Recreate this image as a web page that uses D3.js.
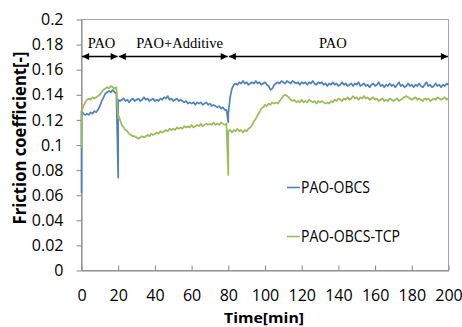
<!DOCTYPE html>
<html>
<head>
<meta charset="utf-8">
<script src="https://cdn.jsdelivr.net/npm/d3@7"></script>
<style>
  html, body { margin: 0; padding: 0; background: #fff; }
  svg { display: block; }
</style>
</head>
<body>
<svg id="chart" width="462" height="327"></svg>
<script>
// Sampling grid: one reading per minute
const minutes = d3.range(0, 201);

// Friction coefficient, PAO-OBCS
const obcs = [
  0.127,0.125,0.124,0.125,0.124,0.126,0.125,0.127,0.126,0.128,
  0.131,0.135,0.138,0.141,0.142,0.143,0.142,0.144,0.142,0.141,
  0.136,0.135,0.136,0.137,0.135,0.136,0.134,0.136,0.137,0.135,
  0.136,0.137,0.135,0.136,0.138,0.136,0.137,0.135,0.136,0.137,
  0.135,0.136,0.135,0.137,0.136,0.138,0.137,0.139,0.136,0.137,
  0.135,0.136,0.137,0.135,0.136,0.135,0.134,0.135,0.133,0.134,
  0.133,0.134,0.132,0.134,0.133,0.134,0.132,0.133,0.134,0.132,
  0.133,0.131,0.132,0.131,0.130,0.131,0.129,0.130,0.128,0.128,
  0.125,0.138,0.145,0.148,0.149,0.148,0.150,0.149,0.151,0.149,
  0.150,0.148,0.149,0.150,0.149,0.151,0.149,0.150,0.148,0.149,
  0.150,0.148,0.147,0.144,0.145,0.148,0.149,0.150,0.149,0.151,
  0.150,0.149,0.151,0.150,0.149,0.151,0.150,0.149,0.150,0.148,
  0.150,0.149,0.150,0.148,0.150,0.149,0.151,0.149,0.148,0.150,
  0.149,0.150,0.148,0.149,0.147,0.149,0.148,0.150,0.148,0.149,
  0.147,0.148,0.150,0.148,0.149,0.147,0.148,0.149,0.147,0.149,
  0.148,0.150,0.147,0.148,0.149,0.147,0.148,0.146,0.148,0.149,
  0.147,0.148,0.150,0.147,0.148,0.146,0.148,0.147,0.149,0.147,
  0.148,0.146,0.148,0.150,0.147,0.148,0.146,0.147,0.149,0.147,
  0.148,0.146,0.148,0.147,0.149,0.147,0.146,0.148,0.150,0.147,
  0.148,0.146,0.147,0.149,0.147,0.148,0.146,0.148,0.147,0.149,
  0.148
];

// Friction coefficient, PAO-OBCS-TCP
const obcsTcp = [
  0.126,0.131,0.134,0.136,0.137,0.136,0.138,0.137,0.138,0.139,
  0.140,0.142,0.144,0.145,0.146,0.145,0.147,0.146,0.145,0.146,
  0.124,0.120,0.116,0.114,0.112,0.111,0.109,0.108,0.107,0.107,
  0.106,0.105,0.106,0.107,0.106,0.107,0.108,0.107,0.109,0.108,
  0.109,0.110,0.109,0.111,0.110,0.111,0.112,0.111,0.113,0.112,
  0.113,0.112,0.114,0.113,0.114,0.113,0.115,0.114,0.115,0.114,
  0.116,0.114,0.115,0.116,0.115,0.117,0.115,0.116,0.117,0.116,
  0.117,0.116,0.118,0.116,0.117,0.116,0.118,0.117,0.116,0.117,
  0.111,0.112,0.110,0.112,0.111,0.113,0.111,0.112,0.110,0.112,
  0.111,0.113,0.114,0.116,0.119,0.121,0.124,0.126,0.129,0.130,
  0.132,0.131,0.133,0.132,0.134,0.133,0.134,0.133,0.135,0.137,
  0.139,0.140,0.139,0.138,0.136,0.135,0.136,0.134,0.135,0.134,
  0.136,0.134,0.135,0.134,0.136,0.135,0.134,0.135,0.133,0.135,
  0.134,0.135,0.134,0.133,0.134,0.133,0.135,0.134,0.136,0.135,
  0.137,0.136,0.135,0.137,0.136,0.138,0.136,0.137,0.139,0.137,
  0.138,0.136,0.138,0.137,0.139,0.137,0.138,0.136,0.137,0.138,
  0.136,0.137,0.135,0.136,0.137,0.135,0.136,0.135,0.137,0.136,
  0.135,0.136,0.137,0.135,0.136,0.137,0.138,0.139,0.138,0.137,
  0.136,0.137,0.138,0.136,0.137,0.136,0.135,0.137,0.136,0.137,
  0.135,0.136,0.137,0.136,0.138,0.137,0.136,0.137,0.138,0.136,
  0.137
];

// Momentary minima when the oil is changed (minute, value)
const obcsDips = [[0, 0.062], [20, 0.074], [80, 0.118]];
const obcsTcpDips = [[0, 0.098], [20, 0.121], [80, 0.076]];

const seriesNames = ["PAO-OBCS", "PAO-OBCS-TCP"];
const seriesColors = ["#4F81BD", "#9BBB59"];

const yTicks = [0, 0.02, 0.04, 0.06, 0.08, 0.1, 0.12, 0.14, 0.16, 0.18, 0.2];
const yTickLabels = ["0", "0.02", "0.04", "0.06", "0.08", "0.1", "0.12", "0.14", "0.16", "0.18", "0.2"];
const xTicks = [0, 20, 40, 60, 80, 100, 120, 140, 160, 180, 200];

// Test phases: lubricant used in each interval
const phaseLabels = ["PAO", "PAO+Additive", "PAO"];
const phaseStart = [0, 20, 80];
const phaseEnd = [20, 80, 200];
const phaseLabelAt = [10.9, 53.5, 137];

// ---- layout ----
const plotLeft = 81.5, plotRight = 448.5, plotTop = 19.5, plotBottom = 270.5;

const svg = d3.select("#chart");

const x = d3.scaleLinear().domain([0, 200]).range([plotLeft, plotRight]);
const y = d3.scaleLinear().domain([0, 0.2]).range([plotBottom, plotTop]);

const axisColor = "#868686";
const tickFont = "'Open Sans', 'Noto Sans', sans-serif";

// plot frame
svg.append("rect")
  .attr("x", plotLeft).attr("y", plotTop)
  .attr("width", plotRight - plotLeft).attr("height", plotBottom - plotTop)
  .attr("fill", "none").attr("stroke", "#a6a6a6").attr("stroke-width", 1);

// y axis
const gy = svg.append("g")
  .attr("transform", `translate(${plotLeft},0)`)
  .call(d3.axisLeft(y).tickValues(yTicks)
    .tickFormat((d, i) => yTickLabels[i])
    .tickSizeInner(5).tickSizeOuter(0).tickPadding(13));
gy.select(".domain").attr("stroke", axisColor);
gy.selectAll(".tick line").attr("stroke", axisColor);
gy.selectAll(".tick text")
  .attr("fill", "#000").attr("font-family", tickFont).attr("font-size", 16);

// x axis (ticks point into the plot)
const gx = svg.append("g")
  .attr("transform", `translate(0,${plotBottom})`)
  .call(d3.axisBottom(x).tickValues(xTicks)
    .tickSizeInner(-5).tickSizeOuter(0));
gx.select(".domain").attr("stroke", axisColor);
gx.selectAll(".tick line").attr("stroke", axisColor);
gx.selectAll(".tick text")
  .attr("y", 30.5).attr("dy", 0)
  .attr("fill", "#000").attr("font-family", tickFont).attr("font-size", 16);

// axis titles
svg.append("text")
  .attr("x", (plotLeft + plotRight) / 2 - 1).attr("y", 322.5)
  .attr("text-anchor", "middle")
  .attr("font-family", tickFont).attr("font-weight", "bold").attr("font-size", 15)
  .attr("textLength", 80).attr("lengthAdjust", "spacingAndGlyphs")
  .text("Time[min]");

svg.append("text")
  .attr("transform", "translate(26,138) rotate(-90)")
  .attr("text-anchor", "middle")
  .attr("font-family", tickFont).attr("font-weight", "bold").attr("font-size", 17)
  .attr("textLength", 173).attr("lengthAdjust", "spacingAndGlyphs")
  .text("Friction coefficient[-]");

// series lines
function buildPoints(values, dips) {
  const dipAt = new Map(dips);
  const pts = [];
  minutes.forEach((t, i) => {
    if (dipAt.has(t)) pts.push([t, dipAt.get(t)]);
    pts.push([t, values[i]]);
  });
  return pts;
}

const line = d3.line().x(d => x(d[0])).y(d => y(d[1]));
const series = [buildPoints(obcs, obcsDips), buildPoints(obcsTcp, obcsTcpDips)];

svg.append("g").selectAll("path")
  .data(series)
  .join("path")
  .attr("d", line)
  .attr("fill", "none")
  .attr("stroke", (d, i) => seriesColors[i])
  .attr("stroke-width", 1.7)
  .attr("stroke-linejoin", "round");

// phase arrows
const defs = svg.append("defs");
defs.append("marker")
  .attr("id", "arrowHead")
  .attr("viewBox", "0 0 10 10")
  .attr("refX", 10).attr("refY", 5)
  .attr("markerUnits", "userSpaceOnUse")
  .attr("markerWidth", 8).attr("markerHeight", 7)
  .attr("orient", "auto-start-reverse")
  .append("path").attr("d", "M0,0L10,5L0,10Z").attr("fill", "#000");

const arrowY = 56.5;
const ann = svg.append("g");
phaseLabels.forEach((label, i) => {
  ann.append("line")
    .attr("x1", x(phaseStart[i]) + 0.6).attr("x2", x(phaseEnd[i]) - 0.6)
    .attr("y1", arrowY).attr("y2", arrowY)
    .attr("stroke", "#000").attr("stroke-width", 1.5)
    .attr("marker-start", "url(#arrowHead)")
    .attr("marker-end", "url(#arrowHead)");
  ann.append("text")
    .attr("x", x(phaseLabelAt[i])).attr("y", 48)
    .attr("text-anchor", "middle")
    .attr("font-family", "'Liberation Serif', 'Times New Roman', serif")
    .attr("font-size", 14.5)
    .attr("fill", "#000")
    .text(label);
});

// legend
const legendY = [187.5, 236.5];
const legendTextLen = [69, 99];
const legend = svg.append("g");
seriesNames.forEach((name, i) => {
  legend.append("line")
    .attr("x1", 287).attr("x2", 300)
    .attr("y1", legendY[i]).attr("y2", legendY[i])
    .attr("stroke", seriesColors[i]).attr("stroke-width", 1.6);
  legend.append("text")
    .attr("x", 301).attr("y", legendY[i]).attr("dy", "0.36em")
    .attr("font-family", tickFont).attr("font-size", 16)
    .attr("textLength", legendTextLen[i]).attr("lengthAdjust", "spacingAndGlyphs")
    .attr("fill", "#000")
    .text(name);
});
</script>
</body>
</html>
